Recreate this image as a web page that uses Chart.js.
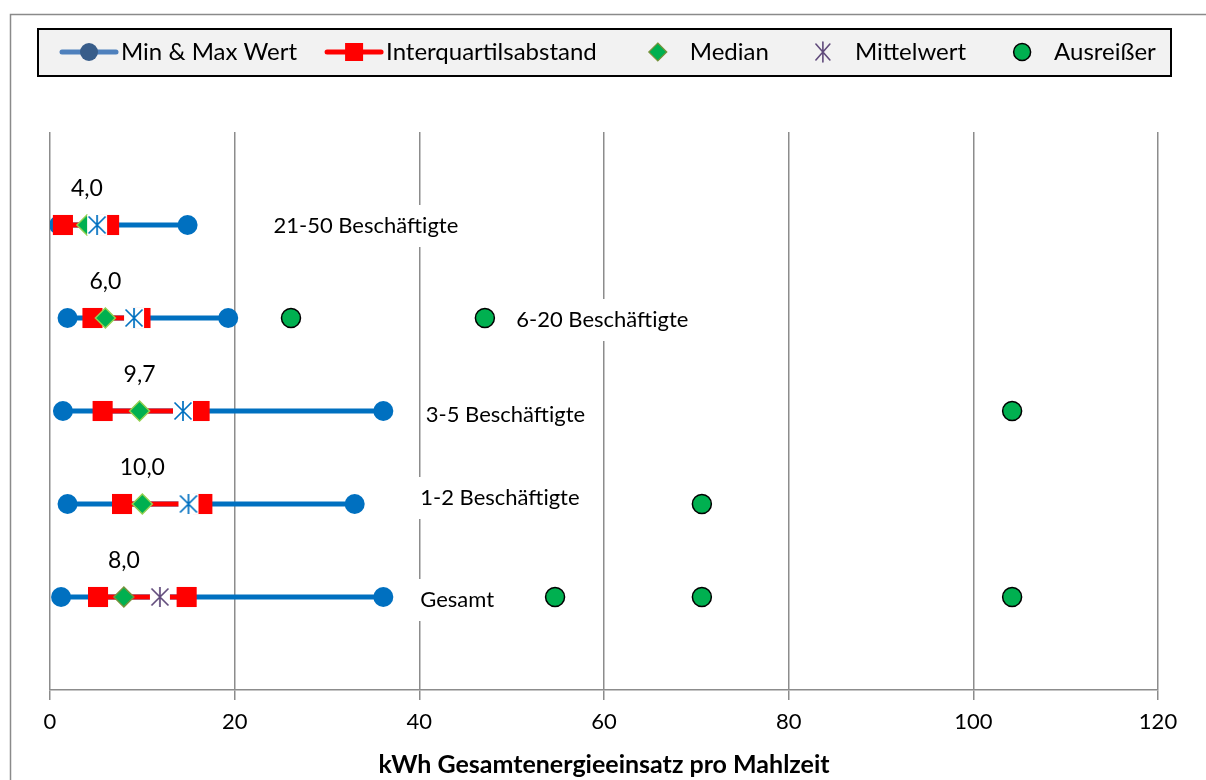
<!DOCTYPE html>
<html>
<head>
<meta charset="utf-8">
<script src="https://cdn.jsdelivr.net/npm/chart.js@4.4.1/dist/chart.umd.min.js"></script>
<style>
  html, body { margin: 0; padding: 0; background: #ffffff; }
  canvas { display: block; }
</style>
</head>
<body>
<canvas id="chart" width="1206" height="780"></canvas>
<script>
// Energy use per meal, by company size (kWh)
const groups = ['Gesamt', '1-2 Beschäftigte', '3-5 Beschäftigte', '6-20 Beschäftigte', '21-50 Beschäftigte'];
const minValues = [1.2, 1.9, 1.4, 1.9, 1.0];
const maxValues = [36.1, 33.0, 36.1, 19.3, 14.9];
const q1Values = [5.2, 7.8, 5.7, 4.6, 1.4];
const q3Values = [14.8, 16.5, 16.2, 9.8, 6.4];
const medianValues = [8.0, 10.0, 9.7, 6.0, 4.0];
const meanValues = [11.9, 15.0, 14.4, 9.1, 5.1];
const outlierValues = [[54.7, 70.6, 104.2], [70.6], [104.2], [26.1, 47.1], []];
const xTicks = [0, 20, 40, 60, 80, 100, 120];
const legendLabels = ['Min & Max Wert', 'Interquartilsabstand', 'Median', 'Mittelwert', 'Ausreißer'];

// where each group name sits along the x axis, and a small vertical nudge
const groupLabelX = [40.1, 40.1, 40.7, 50.5, 24.2];
const groupLabelDy = [3, -6, 4, 2, 1];
// space after each legend entry's text
const legendGaps = [57, 61, 54, 56, 0];

const FONT = 'Lato, "Open Sans", sans-serif';
const BLUE = '#0070C0';
const RED = '#FF0000';
const GREEN = '#00B050';
const PURPLE = '#604A7B';

// each group sits on its own row: Gesamt at the bottom
const rowOf = i => i + 1;

// asterisk marker with a white backing square
function meanMarker(color) {
  const c = document.createElement('canvas');
  c.width = 22; c.height = 22;
  const g = c.getContext('2d');
  g.fillStyle = '#ffffff';
  g.fillRect(1, 1, 20, 20);
  g.strokeStyle = color;
  g.lineWidth = 1.7;
  g.beginPath();
  g.moveTo(2.5, 2.5); g.lineTo(19.5, 19.5);
  g.moveTo(19.5, 2.5); g.lineTo(2.5, 19.5);
  g.moveTo(11, 1); g.lineTo(11, 21);
  g.stroke();
  return c;
}
const meanBlue = meanMarker(BLUE);
const meanPurple = meanMarker(PURPLE);

const datasets = [];
groups.forEach((g, i) => {
  datasets.push({
    label: 'Min & Max Wert',
    data: [{ x: minValues[i], y: rowOf(i) }, { x: maxValues[i], y: rowOf(i) }],
    showLine: true,
    borderColor: BLUE,
    borderWidth: 5,
    pointStyle: 'circle',
    pointRadius: 10,
    pointBackgroundColor: BLUE,
    pointBorderWidth: 0,
    order: 5
  });
  datasets.push({
    label: 'Interquartilsabstand',
    data: [{ x: q1Values[i], y: rowOf(i) }, { x: q3Values[i], y: rowOf(i) }],
    showLine: true,
    borderColor: RED,
    borderWidth: 5,
    pointStyle: 'rect',
    pointRadius: 14.2,
    pointBackgroundColor: RED,
    pointBorderWidth: 0,
    order: 4
  });
});
datasets.push({
  label: 'Median',
  data: medianValues.map((v, i) => ({ x: v, y: rowOf(i) })),
  pointStyle: 'rectRot',
  pointRadius: 10,
  pointBackgroundColor: GREEN,
  pointBorderColor: medianValues.map((v, i) => i === 0 ? '#77933C' : '#92D050'),
  pointBorderWidth: 1.5,
  order: 3
});
datasets.push({
  label: 'Mittelwert',
  data: meanValues.map((v, i) => ({ x: v, y: rowOf(i) })),
  pointStyle: meanValues.map((v, i) => i === 0 ? meanPurple : meanBlue),
  pointRadius: 11,
  order: 2
});
const outlierPoints = [];
outlierValues.forEach((list, i) => list.forEach(v => outlierPoints.push({ x: v, y: rowOf(i) })));
datasets.push({
  label: 'Ausreißer',
  data: outlierPoints,
  pointStyle: 'circle',
  pointRadius: 9.5,
  pointBackgroundColor: GREEN,
  pointBorderColor: '#000000',
  pointBorderWidth: 1.5,
  order: 1
});

// outer frame of the chart area
const framePlugin = {
  id: 'frame',
  beforeDraw(chart) {
    const ctx = chart.ctx;
    ctx.save();
    ctx.fillStyle = '#ffffff';
    ctx.fillRect(0, 0, chart.width, chart.height);
    ctx.strokeStyle = '#8a8a8a';
    ctx.lineWidth = 1.5;
    ctx.strokeRect(10.5, 14.5, chart.width + 20, chart.height + 20);
    ctx.restore();
  }
};

// group names in white boxes, drawn over the gridlines
const groupLabelPlugin = {
  id: 'groupLabels',
  beforeDatasetsDraw(chart) {
    const ctx = chart.ctx;
    const xs = chart.scales.x, ys = chart.scales.y;
    ctx.save();
    ctx.font = '22px ' + FONT;
    ctx.textBaseline = 'middle';
    ctx.textAlign = 'left';
    groups.forEach((g, i) => {
      const x = xs.getPixelForValue(groupLabelX[i]);
      const y = ys.getPixelForValue(rowOf(i)) + groupLabelDy[i];
      const w = ctx.measureText(g).width;
      ctx.fillStyle = '#ffffff';
      ctx.fillRect(x - 4, y - 21, w + 8, 42);
      ctx.fillStyle = '#000000';
      ctx.fillText(g, x, y);
    });
    ctx.restore();
  }
};

// median value above each median marker
const medianLabelPlugin = {
  id: 'medianLabels',
  afterDatasetsDraw(chart) {
    const ctx = chart.ctx;
    const xs = chart.scales.x, ys = chart.scales.y;
    ctx.save();
    ctx.font = '23px ' + FONT;
    ctx.textBaseline = 'middle';
    ctx.textAlign = 'center';
    ctx.fillStyle = '#000000';
    medianValues.forEach((v, i) => {
      const x = xs.getPixelForValue(v);
      const y = ys.getPixelForValue(rowOf(i)) - 36;
      ctx.fillText(v.toFixed(1).replace('.', ','), x, y);
    });
    ctx.restore();
  }
};

// legend box across the top
const legendPlugin = {
  id: 'boxLegend',
  afterDraw(chart) {
    const ctx = chart.ctx;
    ctx.save();
    ctx.fillStyle = '#F2F2F2';
    ctx.fillRect(38, 29, 1133, 47);
    ctx.strokeStyle = '#000000';
    ctx.lineWidth = 2;
    ctx.strokeRect(38, 29, 1133, 47);
    ctx.font = '24px ' + FONT;
    ctx.textBaseline = 'middle';
    ctx.textAlign = 'left';
    const cy = 52;
    let cx = 89;
    legendLabels.forEach((label, k) => {
      if (k === 0) {
        ctx.strokeStyle = '#4F81BD';
        ctx.lineWidth = 5;
        ctx.lineCap = 'round';
        ctx.beginPath(); ctx.moveTo(cx - 27, cy); ctx.lineTo(cx + 27, cy); ctx.stroke();
        ctx.fillStyle = '#385D8A';
        ctx.beginPath(); ctx.arc(cx, cy, 9, 0, Math.PI * 2); ctx.fill();
      } else if (k === 1) {
        ctx.strokeStyle = RED;
        ctx.lineWidth = 5;
        ctx.lineCap = 'round';
        ctx.beginPath(); ctx.moveTo(cx - 27, cy); ctx.lineTo(cx + 27, cy); ctx.stroke();
        ctx.fillStyle = RED;
        ctx.fillRect(cx - 9, cy - 9, 18, 18);
      } else if (k === 2) {
        ctx.fillStyle = GREEN;
        ctx.strokeStyle = '#77933C';
        ctx.lineWidth = 1.2;
        ctx.beginPath();
        ctx.moveTo(cx, cy - 9); ctx.lineTo(cx + 9, cy); ctx.lineTo(cx, cy + 9); ctx.lineTo(cx - 9, cy);
        ctx.closePath(); ctx.fill(); ctx.stroke();
      } else if (k === 3) {
        ctx.strokeStyle = PURPLE;
        ctx.lineWidth = 1.6;
        ctx.beginPath();
        ctx.moveTo(cx - 7, cy - 8); ctx.lineTo(cx + 7, cy + 8);
        ctx.moveTo(cx + 7, cy - 8); ctx.lineTo(cx - 7, cy + 8);
        ctx.moveTo(cx, cy - 10); ctx.lineTo(cx, cy + 10);
        ctx.stroke();
      } else {
        ctx.fillStyle = GREEN;
        ctx.strokeStyle = '#000000';
        ctx.lineWidth = 1.5;
        ctx.beginPath(); ctx.arc(cx, cy, 8.5, 0, Math.PI * 2); ctx.fill(); ctx.stroke();
      }
      const tx = cx + 32;
      ctx.fillStyle = '#000000';
      ctx.fillText(label, tx, cy);
      const tw = ctx.measureText(label).width;
      cx = tx + tw + legendGaps[k];
    });
    ctx.restore();
  }
};

new Chart(document.getElementById('chart'), {
  type: 'scatter',
  data: { datasets },
  options: {
    responsive: false,
    animation: false,
    devicePixelRatio: 1,
    layout: { padding: { left: 50, right: 48, top: 132, bottom: 0 } },
    plugins: {
      legend: { display: false },
      tooltip: { enabled: false }
    },
    scales: {
      x: {
        type: 'linear',
        min: 0,
        max: 120,
        afterBuildTicks: s => { s.ticks = xTicks.map(v => ({ value: v })); },
        afterFit: s => { s.height = 90; },
        ticks: {
          color: '#000000',
          font: { family: FONT, size: 22 },
          padding: 9,
          callback: v => String(v)
        },
        grid: { color: '#8c8c8c', lineWidth: 1.5, tickLength: 10 },
        border: { color: '#8c8c8c', width: 1.5 },
        title: {
          display: true,
          text: 'kWh Gesamtenergieeinsatz pro Mahlzeit',
          color: '#000000',
          font: { family: FONT, size: 25, weight: 'bold' },
          padding: { top: 4, bottom: 0 }
        }
      },
      y: {
        display: false,
        min: 0,
        max: 6
      }
    }
  },
  plugins: [framePlugin, groupLabelPlugin, medianLabelPlugin, legendPlugin]
});
</script>
</body>
</html>
